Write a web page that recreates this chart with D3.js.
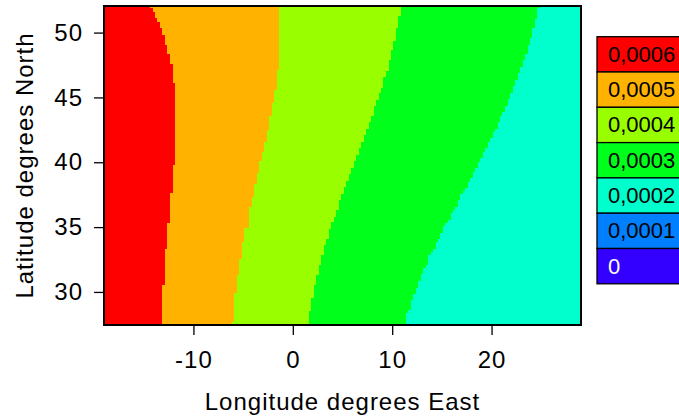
<!DOCTYPE html>
<html>
<head>
<meta charset="utf-8">
<script src="https://cdn.jsdelivr.net/npm/d3@7"></script>
<style>
  html, body { margin: 0; padding: 0; background: #fff; }
  svg { display: block; }
  text { font-family: "Liberation Sans", Arial, Helvetica, sans-serif; }
</style>
</head>
<body>
<svg id="chart" width="679" height="418"></svg>
<script>
// ---- data ----
const lonExtent = [-19, 29];
const latExtent = [27.45, 52.05];
const xTicks = [-10, 0, 10, 20];
const yTicks = [30, 35, 40, 45, 50];
const levelLabels = ["0,0006", "0,0005", "0,0004", "0,0003", "0,0002", "0,0001", "0"];
const levelColors = ["#FF0000", "#FFB300", "#99FF00", "#00FF1A", "#00FFCC", "#0080FF", "#3300FF"];
const xTitle = "Longitude degrees East";
const yTitle = "Latitude degrees North";

// boundary lines: [latitude where run starts (top), longitude]
// 0,0006 | 0,0005
const bound6 = [[52.05,-14.4],[51.9,-14.05],[51.6,-13.85],[51.15,-13.7],[50.85,-13.35],[50.35,-13.15],[49.8,-12.85],[49.05,-12.65],[48.35,-12.35],[47.6,-12.1],[46.1,-11.85],[39.8,-12.1],[37.6,-12.35],[35.3,-12.65],[33.3,-12.85],[30.55,-13.15]];
// 0,0005 | 0,0004
const bound5 = [[52.05,-1.38],[47.12,-1.55],[45.58,-1.88],[44.58,-2.08],[43.58,-2.36],[42.5,-2.62],[41.57,-2.89],[40.8,-3.09],[40.11,-3.36],[39.18,-3.63],[38.33,-3.9],[37.33,-4.1],[36.56,-4.37],[34.93,-4.9],[33.85,-5.11],[32.54,-5.38],[31.3,-5.64],[29.91,-5.91],[27.68,-6.11]];
// 0,0004 | 0,0003
const bound4 = [[52.05,10.91],[51.29,10.6],[50.36,10.4],[49.36,10.1],[48.67,9.9],[47.89,9.7],[47.04,9.4],[46.58,9.1],[45.73,8.9],[45.35,8.7],[44.8,8.4],[44.34,8.2],[43.57,7.9],[43.1,7.68],[42.56,7.38],[42.1,7.18],[41.57,6.88],[41.1,6.68],[40.58,6.37],[40.11,6.17],[39.57,5.87],[39.1,5.67],[38.56,5.37],[38.1,5.17],[37.56,4.86],[37.1,4.66],[36.33,4.36],[35.8,4.16],[35.41,3.86],[34.87,3.66],[34.1,3.35],[33.64,3.15],[32.87,2.85],[32.1,2.65],[31.33,2.35],[30.56,2.15],[29.55,1.84],[28.55,1.64]];
// 0,0003 | 0,0002
const bound3 = [[52.05,24.9],[51.91,24.6],[51.06,24.4],[50.36,24.1],[49.59,23.9],[49.05,23.7],[48.36,23.39],[47.89,23.19],[47.35,22.89],[46.88,22.69],[46.35,22.39],[45.88,22.19],[45.34,21.88],[44.88,21.68],[44.35,21.38],[43.88,21.08],[43.57,20.88],[43.1,20.68],[42.56,20.37],[42.33,20.17],[41.87,19.87],[41.57,19.67],[41.1,19.37],[40.8,19.16],[40.33,18.86],[40.02,18.66],[39.56,18.36],[39.25,18.16],[38.79,17.86],[38.48,17.65],[38.02,17.35],[37.79,17.15],[37.56,16.85],[37.09,16.65],[36.56,16.35],[36.32,16.14],[36.09,15.94],[35.55,15.64],[35.32,15.34],[35.09,15.14],[34.55,14.83],[34.09,14.63],[33.86,14.43],[33.32,14.13],[33.08,13.93],[32.85,13.63],[32.08,13.42],[31.85,13.12],[31.39,12.92],[30.85,12.62],[30.31,12.42],[29.85,12.12],[29.39,11.92],[28.62,11.61],[28.39,11.41]];

// ---- drawing ----
const svg = d3.select("#chart");
const margin = {left: 104, right: 98, top: 6, bottom: 93};
const W = 679, H = 418;
const x = d3.scaleLinear().domain(lonExtent).range([margin.left, W - margin.right]);
const y = d3.scaleLinear().domain(latExtent).range([H - margin.bottom, margin.top]);

const plot = svg.append("g").attr("shape-rendering", "crispEdges");
// lowest visible level background (0,0002)
plot.append("rect")
  .attr("x", x(lonExtent[0]) - 1).attr("y", y(latExtent[1]) - 1)
  .attr("width", x(lonExtent[1]) - x(lonExtent[0]) + 2)
  .attr("height", y(latExtent[0]) - y(latExtent[1]) + 2)
  .attr("fill", levelColors[4]);

const area = d3.area()
  .curve(d3.curveStepBefore)
  .y(d => y(d[0]))
  .x0(x(lonExtent[0]) - 1)
  .x1(d => x(d[1]));

const bounds = [[bound3, levelColors[3]], [bound4, levelColors[2]], [bound5, levelColors[1]], [bound6, levelColors[0]]];
bounds.forEach(([b, c]) => {
  const pts = b.slice();
  pts.push([latExtent[0], b[b.length - 1][1]]);
  plot.append("path").attr("d", area(pts)).attr("fill", c);
});

// frame
svg.append("rect")
  .attr("x", x(lonExtent[0])).attr("y", y(latExtent[1]))
  .attr("width", x(lonExtent[1]) - x(lonExtent[0]))
  .attr("height", y(latExtent[0]) - y(latExtent[1]))
  .attr("fill", "none").attr("stroke", "#000").attr("stroke-width", 2);

const fs = 24, ls = 1;
// axes
const gx = svg.append("g").attr("transform", `translate(0,${y(latExtent[0])})`)
  .call(d3.axisBottom(x).tickValues(xTicks).tickSize(10).tickPadding(17).tickFormat(d3.format("d")));
const gy = svg.append("g").attr("transform", `translate(${x(lonExtent[0])},0)`)
  .call(d3.axisLeft(y).tickValues(yTicks).tickSize(10).tickPadding(11).tickFormat(d3.format("d")));
[gx, gy].forEach(g => {
  g.select(".domain").remove();
  g.selectAll(".tick line").attr("stroke", "#000").attr("stroke-width", 1.3);
  g.selectAll(".tick text").attr("font-size", fs).attr("letter-spacing", ls)
    .attr("fill", "#000").style("font-family", '"Liberation Sans", Arial, sans-serif');
});
gx.selectAll(".tick text").text(d => d < 0 ? "-" + Math.abs(d) : d);
gx.selectAll(".tick text").attr("dy", "0.68em");

// titles
svg.append("text")
  .attr("x", (x(lonExtent[0]) + x(lonExtent[1])) / 2).attr("y", 410)
  .attr("text-anchor", "middle").attr("font-size", fs).attr("letter-spacing", ls)
  .text(xTitle);
svg.append("text")
  .attr("transform", `translate(33,${(y(latExtent[0]) + y(latExtent[1])) / 2}) rotate(-90)`)
  .attr("text-anchor", "middle").attr("font-size", fs).attr("letter-spacing", ls)
  .text(yTitle);

// legend
const legTop = 36.7, legH = 35.3, legX = 597;
const leg = svg.append("g");
levelLabels.forEach((lab, i) => {
  leg.append("rect")
    .attr("x", legX).attr("y", legTop + i * legH)
    .attr("width", 100).attr("height", legH)
    .attr("fill", levelColors[i]).attr("stroke", "#000").attr("stroke-width", 1.3);
  leg.append("text")
    .attr("x", 608).attr("y", legTop + i * legH + legH / 2 + 7.5)
    .attr("font-size", 22)
    .attr("fill", i === levelLabels.length - 1 ? "#fff" : "#000")
    .text(lab);
});
</script>
</body>
</html>
